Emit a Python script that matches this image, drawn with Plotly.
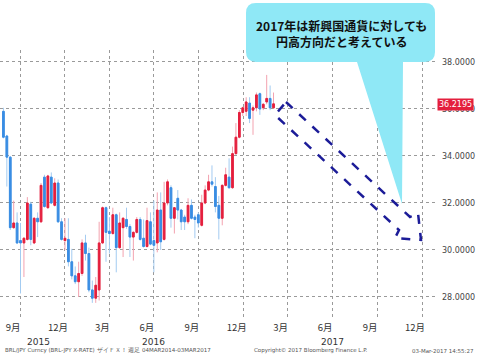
import plotly.graph_objects as go
import pandas as pd

# ---- data (BRL/JPY weekly candles) ----
opens = [35.9, 34.85, 33.95, 30.95, 31.15, 30.4, 30.3, 30.45, 31.95, 30.3,
         31.35, 31.2, 33.1, 31.8, 33.1, 31.9, 32.85, 31.2, 30.4, 30.45,
         29.5, 28.9, 28.65, 29.0, 30.3, 29.85, 28.3, 27.95, 28.3, 30.3,
         31.8, 30.8, 30.7, 31.5, 30.1, 30.95, 31.3, 31.0, 30.55, 30.75,
         31.3, 30.5, 30.15, 31.2, 30.4, 30.3, 31.7, 30.45, 32.0, 32.65,
         31.35, 32.2, 31.7, 31.4, 31.2, 31.9, 31.4, 31.5, 31.05, 32.0,
         32.55, 32.9, 32.7, 31.9, 31.35, 32.75, 33.1, 32.65, 34.1, 34.8,
         35.85, 35.9, 36.25, 35.95, 36.05, 36.65, 36.05, 36.3, 36.45, 36.05]
highs = [36.05, 34.9, 34.0, 32.1, 31.6, 31.15, 30.55, 32.25, 32.05, 31.4,
         31.6, 32.85, 33.2, 33.2, 33.3, 33.05, 33.0, 31.35, 31.35, 31.35,
         30.05, 29.3, 29.5, 30.45, 30.65, 30.1, 28.7, 28.85, 31.2, 31.85,
         31.85, 31.4, 31.8, 31.55, 31.6, 31.4, 31.8, 31.1, 30.8, 31.4,
         31.4, 31.3, 31.8, 31.6, 32.1, 32.45, 32.45, 32.9, 33.0, 32.75,
         31.8, 32.55, 31.75, 31.5, 32.2, 32.15, 31.5, 31.6, 32.35, 32.75,
         33.2, 33.6, 33.1, 32.3, 32.8, 33.5, 33.9, 34.4, 35.4, 35.95,
         36.1, 36.5, 36.5, 36.15, 36.7, 36.7, 36.25, 37.45, 37.0, 36.7]
lows = [34.75, 32.7, 30.85, 30.9, 30.25, 28.15, 28.85, 30.4, 30.2, 30.25,
        30.55, 31.15, 31.8, 31.75, 31.95, 31.85, 31.15, 30.4, 30.0, 29.3,
        28.75, 28.55, 28.0, 28.9, 29.55, 28.2, 27.75, 27.75, 27.85, 30.25,
        29.5, 29.85, 30.65, 29.05, 30.05, 29.7, 30.9, 29.7, 29.55, 30.7,
        30.4, 30.1, 30.1, 30.2, 29.05, 29.9, 30.0, 30.4, 31.9, 30.95,
        30.7, 31.3, 30.85, 30.85, 31.1, 31.3, 30.5, 30.95, 31.0, 31.95,
        32.5, 32.7, 31.6, 30.45, 31.05, 32.7, 32.6, 32.6, 34.05, 34.75,
        35.7, 35.7, 35.4, 34.9, 35.9, 35.75, 35.95, 36.2, 35.95, 36.0]
closes = [34.8, 33.95, 30.95, 31.15, 30.3, 30.3, 30.5, 32.0, 30.45, 31.35,
          31.2, 32.75, 31.85, 33.15, 32.0, 32.85, 31.2, 30.45, 30.5, 29.5,
          28.9, 28.65, 29.0, 30.3, 29.85, 28.3, 27.95, 28.5, 30.3, 31.8,
          30.75, 30.7, 31.5, 30.1, 31.15, 31.35, 31.0, 30.55, 30.75, 31.3,
          30.45, 30.15, 31.25, 30.25, 30.2, 31.7, 30.35, 32.0, 32.9, 31.35,
          31.8, 31.7, 31.2, 31.2, 31.9, 31.35, 31.3, 31.15, 32.0, 32.55,
          32.9, 32.8, 31.85, 31.35, 32.75, 33.2, 32.65, 34.1, 34.8, 35.85,
          36.05, 36.3, 35.6, 36.05, 36.6, 36.0, 36.2, 36.45, 36.05, 36.2195]
dates = pd.date_range(end="2017-03-03", periods=len(closes), freq="W-FRI")

month_ticks = ["2015-10-01", "2016-01-01", "2016-04-01", "2016-07-01", "2016-10-01",
               "2017-01-01", "2017-04-01", "2017-07-01", "2017-10-01", "2018-01-01"]
month_labels = ["9月", "12月", "3月", "6月", "9月", "12月", "3月", "6月", "9月", "12月"]
year_pos = ["2015-11-07", "2016-07-01", "2017-07-01"]
year_labels = ["2015", "2016", "2017"]
price_ticks = [28, 30, 32, 34, 36, 38]

# ---- layout geometry ----
W, H = 477, 356
ML, MR, MT, MB = 0, 42, 50, 36
PW, PH = W - ML - MR, H - MT - MB


def pp(X, Y):
    return (X - ML) / PW, (H - MB - Y) / PH


def path(cmds):
    out = []
    for c in cmds:
        if c[0] == "Z":
            out.append("Z")
            continue
        pts = " ".join("%.5f,%.5f" % pp(*p) for p in c[1:])
        out.append(c[0] + " " + pts)
    return " ".join(out)


callout = path([("M", (256, 3)), ("L", (425, 3)), ("Q", (435, 3), (435, 13)),
                ("L", (435, 52)), ("Q", (435, 62), (425, 62)), ("L", (403, 62)),
                ("L", (402, 204)), ("L", (357, 62)), ("L", (256, 62)),
                ("Q", (246, 62), (246, 52)), ("L", (246, 13)),
                ("Q", (246, 3), (256, 3)), ("Z",)])
arrow = path([("M", (286, 102)), ("L", (410, 217)), ("L", (418, 213)),
              ("L", (421, 240)), ("L", (395, 238)), ("L", (399, 230)),
              ("L", (275, 115)), ("Z",)])

body_hi = [max(o, c) for o, c in zip(opens, closes)]
body_lo = [min(o, c) for o, c in zip(opens, closes)]

RED, BLUE = "#E41F3D", "#3A8DE3"
LRED, LBLUE = "#F3A2AF", "#A3CBF1"

fig = go.Figure()
fig.add_trace(go.Candlestick(
    x=dates, open=opens, high=highs, low=lows, close=closes,
    increasing=dict(line=dict(color=LRED, width=1), fillcolor=LRED),
    decreasing=dict(line=dict(color=LBLUE, width=1), fillcolor=LBLUE),
    whiskerwidth=0, showlegend=False, hoverinfo="skip"))
fig.add_trace(go.Candlestick(
    x=dates, open=opens, high=body_hi, low=body_lo, close=closes,
    increasing=dict(line=dict(color=RED, width=1), fillcolor=RED),
    decreasing=dict(line=dict(color=BLUE, width=1), fillcolor=BLUE),
    whiskerwidth=0, showlegend=False, hoverinfo="skip"))

grid = dict(showgrid=True, gridcolor="#9a9a9a", griddash="dot", gridwidth=1)
fig.update_layout(
    width=W, height=H, margin=dict(l=ML, r=MR, t=MT, b=MB, pad=0),
    paper_bgcolor="white", plot_bgcolor="white", showlegend=False,
    xaxis=dict(type="date", range=["2015-08-21", "2018-01-27 14:00"],
               tickmode="array", tickvals=month_ticks, ticktext=month_labels,
               ticklabelshift=-7, ticks="", showline=False, zeroline=False,
               rangeslider=dict(visible=False),
               tickfont=dict(family="Noto Sans CJK JP", size=9.5, color="#333"),
               **grid),
    yaxis=dict(side="right", range=[27.021, 38.51], tickmode="array",
               tickvals=price_ticks, tickformat=".4f", ticks="",
               ticklabelstandoff=6, showline=False, zeroline=False,
               tickfont=dict(family="DejaVu Sans", size=8, color="#444"),
               **grid),
)

fig.add_shape(type="path", path=callout, xref="paper", yref="paper",
              fillcolor="#8FE8F6", line=dict(width=0), layer="above")
fig.add_shape(type="path", path=arrow, xref="paper", yref="paper",
              fillcolor="rgba(0,0,0,0)", line=dict(color="#1C1C98", width=2.5, dash="dash"),
              layer="above")

cx, cy = pp(341, 34)
fig.add_annotation(x=cx, y=cy, xref="paper", yref="paper", showarrow=False,
                   xanchor="center", yanchor="middle",
                   text="<b>2017年は新興国通貨に対しても<br>円高方向だと考えている</b>",
                   font=dict(family="Noto Sans CJK JP", size=12, color="#111"))

for xp, lab in zip(year_pos, year_labels):
    fig.add_annotation(x=xp, y=pp(0, 342)[1], xref="x", yref="paper", showarrow=False,
                       xanchor="center", yanchor="middle",
                       text=lab, font=dict(family="DejaVu Sans", size=9, color="#333"))

fy = pp(0, 351)[1]
foot = dict(family="DejaVu Sans", size=5.5, color="#555")
fig.add_annotation(x=pp(3, 0)[0], y=fy, xref="paper", yref="paper", showarrow=False,
                   xanchor="left", yanchor="middle", font=foot,
                   text="BRL/JPY Curncy (BRL-JPY X-RATE) ザイＦＸ！ 週足 04MAR2014-03MAR2017")
fig.add_annotation(x=pp(252, 0)[0], y=fy, xref="paper", yref="paper", showarrow=False,
                   xanchor="left", yanchor="middle", font=foot,
                   text="Copyright© 2017 Bloomberg Finance L.P.")
fig.add_annotation(x=pp(476, 0)[0], y=fy, xref="paper", yref="paper", showarrow=False,
                   xanchor="right", yanchor="middle", font=foot, text="03-Mar-2017 14:55:27")

fig.add_annotation(x=pp(437, 0)[0], y=closes[-1], xref="paper", yref="y", showarrow=False,
                   xanchor="left", yanchor="middle", yshift=-1,
                   text="%.4f" % closes[-1], bgcolor=RED,
                   borderpad=1, font=dict(family="DejaVu Sans", size=8, color="white"))

fig.write_html("out.html", config={"displayModeBar": False},
               post_script="document.body.style.margin='0';")
